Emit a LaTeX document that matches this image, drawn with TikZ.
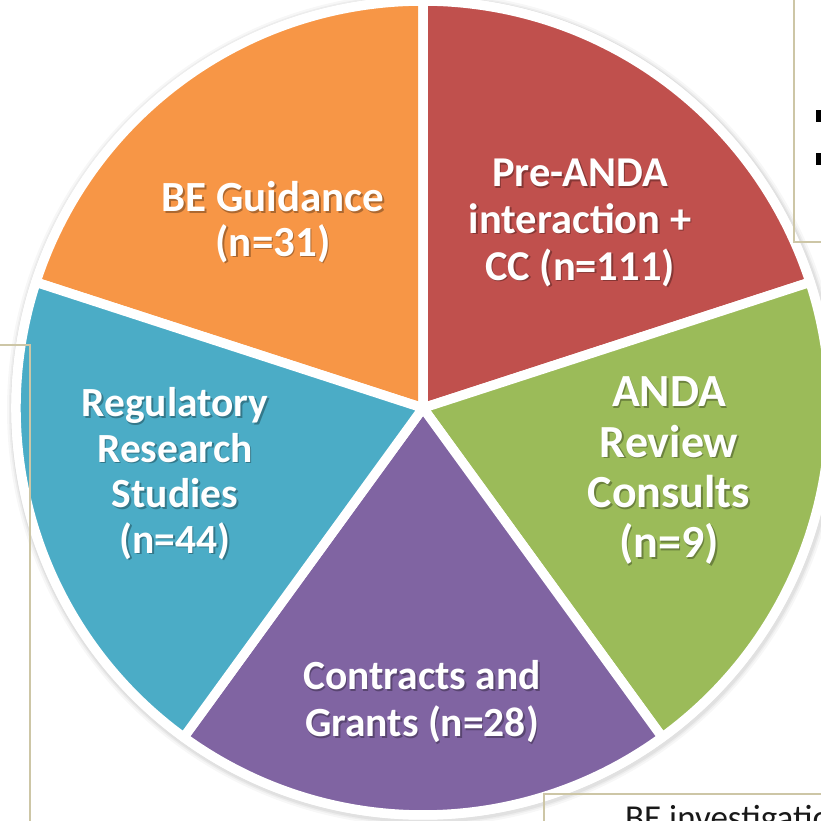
\documentclass[tikz,border=0pt]{standalone}
\usepackage{fontspec}
\setmainfont{Carlito}
\definecolor{cOrange}{HTML}{F79646}
\definecolor{cRed}{HTML}{C0504D}
\definecolor{cGreen}{HTML}{9BBB59}
\definecolor{cPurple}{HTML}{8064A2}
\definecolor{cBlue}{HTML}{4BACC6}
\definecolor{cFrame}{HTML}{CDC6A6}
\newcommand\pielabel[6]{%
  \node[lblshadow] (#1s) at (#2+1.5,#3-1.5) {\fontsize{#4}{#5}\selectfont\begin{tabular}[t]{@{}c@{}}#6\end{tabular}};
  \node[lbl] (#1) at (#2,#3) {\fontsize{#4}{#5}\selectfont\begin{tabular}[t]{@{}c@{}}#6\end{tabular}};}
\begin{document}
\begin{tikzpicture}[x=1pt,y=1pt,
  lbl/.style={text=white, inner sep=0pt, anchor=base, font=\bfseries},
  lblshadow/.style={text=black, text opacity=0.3, inner sep=0pt, anchor=base, font=\bfseries},
  frame/.style={draw=cFrame, line width=2pt},
  sector/.style={draw=white, line width=9.5pt, line join=round}]
\useasboundingbox (0,0) rectangle (821,821);
\clip (0,0) rectangle (821,821);
\coordinate (C) at (423,413);
% soft shadow and white ring
\foreach \rr/\op in {417/0.03,415/0.04,413.5/0.05}{
  \fill[black,opacity=\op] ([shift={(1,-1.5)}]C) circle (\rr);}
\fill[white] (C) circle (411.5);
% sectors
\foreach \a/\b/\c in {90/162/cOrange, 18/90/cRed, -54/18/cGreen, -126/-54/cPurple, 162/234/cBlue}{
  \filldraw[sector, fill=\c] (C) -- ++(\a:407) arc[start angle=\a, end angle=\b, radius=407] -- cycle;}
% labels
\pielabel{beg}{273}{609.3}{43}{41.7}{BE Guidance\\(n=31)}
\pielabel{pre}{580}{634.3}{42.5}{46.7}{Pre-ANDA\\interaction +\\CC (n=111)}
\pielabel{anda}{669}{414}{46}{50.3}{ANDA\\Review\\Consults\\(n=9)}
\pielabel{reg}{175}{404}{41.5}{45.5}{Regulatory\\Research\\Studies\\(n=44)}
\pielabel{con}{422}{131}{41.5}{46.7}{Contracts and\\Grants (n=28)}
% background frames
\coordinate (l1) at (0,476);
\coordinate (l2) at (30,476);
\coordinate (l3) at (30,-5);
\draw[frame] (l1) -- (l2) -- (l3);
\coordinate (t1) at (794,830);
\coordinate (t2) at (794,579);
\coordinate (t3) at (830,579);
\draw[frame] (t1) -- (t2) -- (t3);
\coordinate (b1) at (544,-5);
\coordinate (b2) at (544,27);
\coordinate (b3) at (830,27);
\draw[frame] (b1) -- (b2) -- (b3);
% bullets of cut-off text
\fill[black] (816,699) rectangle (826,711);
\fill[black] (816,656) rectangle (826,668);
\node[anchor=base west, inner sep=0pt, text=black!90, font=\fontsize{35}{40}\selectfont] (beinv) at (625,-9) {BE investigation};
\end{tikzpicture}
\end{document}
